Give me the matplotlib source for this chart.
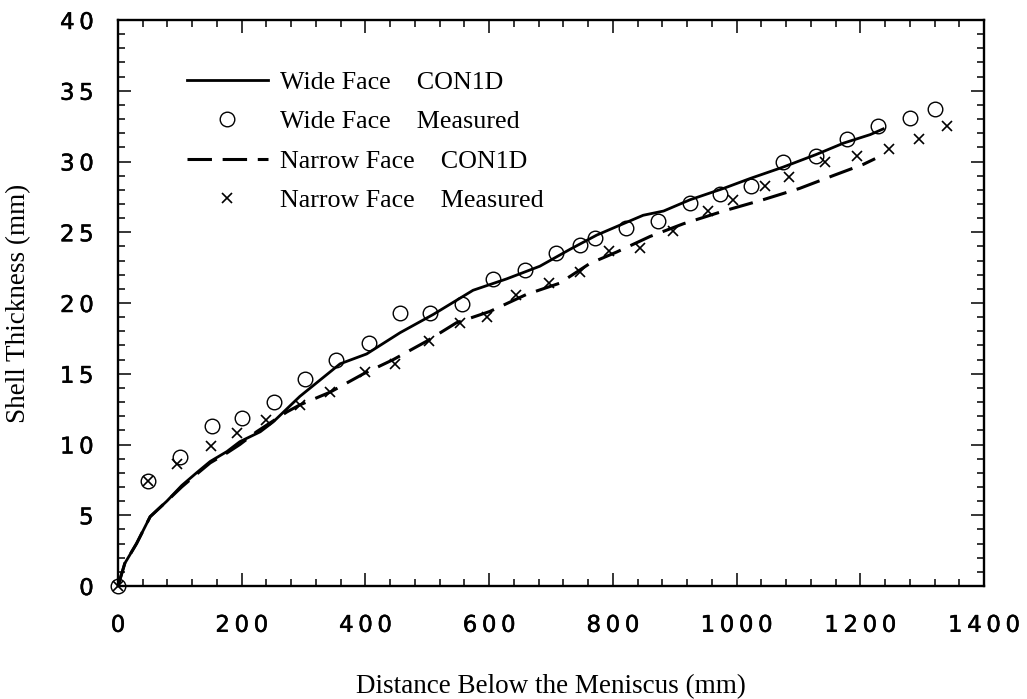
import matplotlib
matplotlib.use("Agg")
import matplotlib.pyplot as plt
import matplotlib.patheffects as pe
from matplotlib.ticker import MultipleLocator, FuncFormatter

# ---- data ----
wide_model_x = [0, 11, 30, 52, 79, 103, 127, 149, 176, 197, 230, 251, 294, 359, 402,
                456, 510, 574, 628, 682, 731, 774, 806, 849, 882, 925, 979, 1022,
                1075, 1129, 1173, 1216, 1237]
wide_model_y = [0, 1.6, 3.0, 4.9, 6.0, 7.1, 8.0, 8.8, 9.5, 10.2, 10.9, 11.6, 13.4, 15.7,
                16.4, 17.9, 19.2, 20.9, 21.7, 22.6, 23.8, 24.8, 25.4, 26.2, 26.5, 27.3,
                28.1, 28.8, 29.6, 30.5, 31.3, 31.9, 32.3]

narrow_model_x = [0, 11, 30, 52, 79, 103, 127, 149, 176, 197, 224, 273, 294, 343, 397,
                  445, 499, 547, 601, 660, 714, 763, 806, 860, 914, 979, 1043, 1102,
                  1156, 1205, 1224]
narrow_model_y = [0, 1.6, 3.0, 4.9, 6.0, 7.0, 7.9, 8.7, 9.4, 10.0, 10.9, 12.3, 12.8,
                  13.7, 15.0, 16.0, 17.3, 18.6, 19.4, 20.6, 21.4, 22.8, 23.6, 24.7,
                  25.6, 26.5, 27.3, 28.1, 29.0, 29.8, 30.2]

wide_meas_x = [0, 49, 100, 152, 201, 252, 302, 352, 405, 456, 504, 556, 607, 658, 708,
               747, 771, 822, 873, 925, 973, 1024, 1075, 1129, 1178, 1229, 1280, 1321]
wide_meas_y = [0, 7.4, 9.1, 11.3, 11.9, 13.0, 14.6, 16.0, 17.2, 19.3, 19.3, 19.9, 21.7,
               22.3, 23.5, 24.1, 24.6, 25.3, 25.8, 27.1, 27.7, 28.3, 30.0, 30.4, 31.6,
               32.5, 33.1, 33.7]

narrow_meas_x = [0, 49, 95, 150, 193, 239, 294, 343, 399, 448, 502, 553, 596, 644, 696,
                 747, 794, 844, 898, 954, 995, 1046, 1085, 1143, 1194, 1247, 1295, 1340]
narrow_meas_y = [0, 7.4, 8.6, 9.9, 10.8, 11.7, 12.8, 13.7, 15.1, 15.7, 17.3, 18.6, 19.0,
                 20.6, 21.4, 22.2, 23.7, 23.9, 25.1, 26.5, 27.3, 28.3, 28.9, 30.0, 30.4,
                 30.9, 31.6, 32.5]

labels = ["Wide Face    CON1D", "Wide Face    Measured",
          "Narrow Face    CON1D", "Narrow Face    Measured"]
x_label = "Distance Below the Meniscus (mm)"
y_label = "Shell Thickness (mm)"

# ---- figure ----
W, H = 1027, 699
fig = plt.figure(figsize=(W / 100, H / 100), dpi=100)
ax = fig.add_axes([118 / W, 1 - 586 / H, 866 / W, 566 / H])

ax.plot(wide_model_x, wide_model_y, color="black", lw=2.0, label=labels[0])
ax.plot(wide_meas_x, wide_meas_y, ls="none", marker="o", ms=10.5, mfc="none",
        mec="black", mew=1.0, clip_on=False, label=labels[1])
ax.plot(narrow_model_x, narrow_model_y, color="black", lw=2.2, dashes=(8, 3.5),
        label=labels[2])
ax.plot(narrow_meas_x, narrow_meas_y, ls="none", marker="x", ms=7, mec="black",
        mew=1.2, clip_on=False, label=labels[3])

ax.set_xlim(0, 1400)
ax.set_ylim(0, 40)
ax.xaxis.set_major_locator(MultipleLocator(200))
ax.xaxis.set_minor_locator(MultipleLocator(40))
ax.yaxis.set_major_locator(MultipleLocator(5))
ax.yaxis.set_minor_locator(MultipleLocator(1))

spaced = FuncFormatter(lambda v, p: "\u2009".join(str(int(round(v)))))
ax.xaxis.set_major_formatter(spaced)
ax.yaxis.set_major_formatter(spaced)

ax.tick_params(which="both", direction="in", top=True, right=True, width=1.1,
               colors="black")
ax.tick_params(which="major", length=9.5)
ax.tick_params(which="minor", length=5)
ax.tick_params(axis="x", which="major", pad=20)
ax.tick_params(axis="y", which="major", pad=17.5)
thick = [pe.withStroke(linewidth=0.35, foreground="black")]
for lab in ax.get_xticklabels() + ax.get_yticklabels():
    lab.set_fontfamily("DejaVu Sans")
    lab.set_fontsize(16.5)
    lab.set_path_effects(thick)

for sp in ax.spines.values():
    sp.set_linewidth(1.7)

leg = ax.legend(loc="upper left", bbox_to_anchor=(187 / W, 1 - 71 / H),
                bbox_transform=fig.transFigure, frameon=False, borderpad=0,
                borderaxespad=0, handlelength=3.1, handletextpad=0.48,
                labelspacing=0.62,
                prop={"family": "Liberation Serif", "size": 18.7})

fig.text(551 / W, 1 - 693 / H, x_label, ha="center", va="baseline",
         family="Liberation Serif", size=19.5)
fig.text(25 / W, 1 - 303 / H, y_label, rotation=90, rotation_mode="anchor",
         ha="center", va="baseline", family="Liberation Serif", size=19.5)

fig.savefig("out.png", dpi=100)
